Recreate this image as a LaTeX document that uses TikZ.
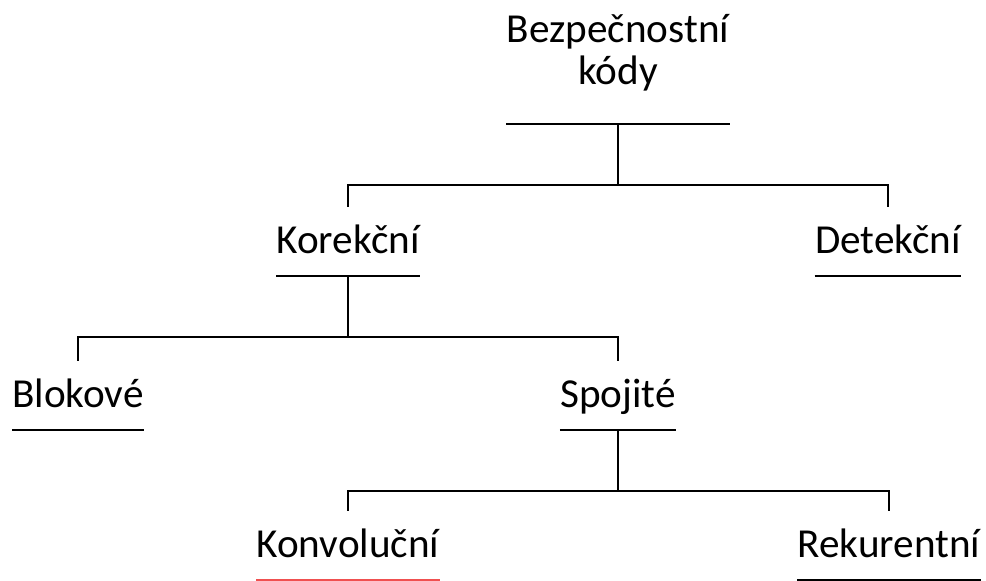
\documentclass[tikz,border=0pt]{standalone}
\usepackage{fontspec}
\setmainfont{Carlito}
\definecolor{markred}{RGB}{240,80,80}
\tikzset{
    lbl/.style = {inner sep=0pt, anchor=base,
                  text height=23.5pt, text depth=11pt,
                  font=\fontsize{20.6}{21}\selectfont},
    branch/.style = {line width=1pt}
}

\begin{document}
\begin{tikzpicture}[x=0.5pt, y=-0.5pt]
    \useasboundingbox (0,0) rectangle (986,581);

    \node (root) at (618,124) [lbl, anchor=south, align=center,
                               text depth=19.5pt] {Bezpečnostní\\kódy};
    \node (kor)  at (348,254) [lbl] {Korekční};
    \node (det)  at (888,254) [lbl] {Detekční};
    \node (blok) at (78,408)  [lbl] {Blokové};
    \node (spoj) at (618,408) [lbl] {Spojité};
    \node (konv) at (348,558) [lbl] {Konvoluční};
    \node (rek)  at (889,558) [lbl] {Rekurentní};

    % underlines
    \foreach \Node in {root, kor, det, blok, spoj, rek}
        \draw[branch] (\Node.south west) -- (\Node.south east);
    \draw[branch, markred] (konv.south west) -- (konv.south east);

    \foreach \Parent/\Left/\Right in {%
        root/kor/det,
        kor/blok/spoj,
        spoj/konv/rek%
        }
        {
        \draw[branch] (\Parent.south) -- ++(0,61) coordinate (\Parent-bar);
        \draw[branch] (\Left.north) |- (\Parent-bar) -| (\Right.north);
        }
\end{tikzpicture}
\end{document}
